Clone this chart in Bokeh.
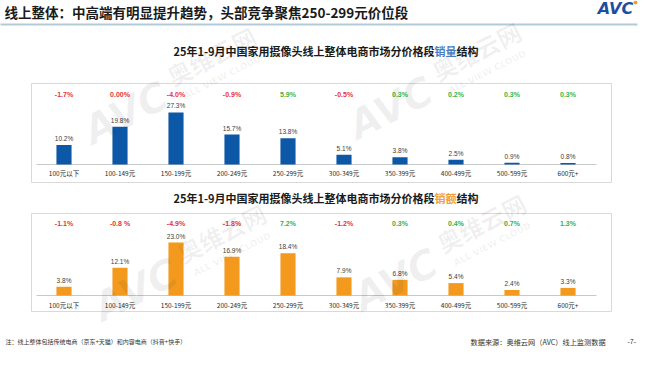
from bokeh.plotting import figure
from bokeh.models import Range1d
from bokeh.core.properties import value
from bokeh.embed import file_html
from bokeh.resources import INLINE

# ---------------- data ----------------
categories = ["100元以下", "100-149元", "150-199元", "200-249元", "250-299元",
              "300-349元", "350-399元", "400-499元", "500-599元", "600元+"]
volume_share = [10.2, 19.8, 27.3, 15.7, 13.8, 5.1, 3.8, 2.5, 0.9, 0.8]
volume_change = ["-1.7%", "0.00%", "-4.0%", "-0.9%", "5.9%",
                 "-0.5%", "0.3%", "0.2%", "0.3%", "0.3%"]
sales_share = [3.8, 12.1, 23.0, 16.9, 18.4, 7.9, 6.8, 5.4, 2.4, 3.3]
sales_change = ["-1.1%", "-0.8 %", "-4.9%", "-1.8%", "7.2%",
                "-1.2%", "0.3%", "0.4%", "0.7%", "1.3%"]

page_title = "线上整体：中高端有明显提升趋势，头部竞争聚焦250-299元价位段"
chart_title_main = "25年1-9月中国家用摄像头线上整体电商市场分价格段"
chart_title_tail = "结构"
vol_word = "销量"
amt_word = "销额"
note_text = "注：线上整体包括传统电商（京东+天猫）和内容电商（抖音+快手）"
source_text = "数据来源：奥维云网（AVC）线上监测数据"
page_no = "-7-"

# ---------------- styles / layout ----------------
CJK = value("Noto Sans CJK SC")
LAT = value("Liberation Sans")
BLUE = "#0d58a6"
ORANGE = "#f39a1e"
RED = "#e5333a"
GREEN = "#35b34a"

X0, STEP = 71.5, 56.0          # screen x of first category, spacing
W, H = 640, 358
p = figure(width=W, height=H, x_range=Range1d(8, 648), y_range=Range1d(366, 8),
           output_backend="svg", toolbar_location=None, min_border=0,
           x_axis_location=None, y_axis_location=None)
p.grid.visible = False
p.outline_line_color = None
p.background_fill_color = "white"
p.border_fill_color = "white"


def yrange(base_px, px_per_unit):
    end = (base_px - 8) / px_per_unit
    return Range1d(start=end - H / px_per_unit, end=end)


p.extra_x_ranges = {"cat": Range1d(start=(8 - X0) / STEP, end=(648 - X0) / STEP)}
p.extra_y_ranges = {"vol": yrange(172, 1.905), "amt": yrange(303, 2.3)}
idx = list(range(len(categories)))

# ---------------- watermarks ----------------
def watermark(cx, cy):
    import math
    a = 0.47
    ca, sa = math.cos(a), math.sin(a)
    def pt(dx, dy):
        return cx + dx * ca + dy * sa, cy - dx * sa + dy * ca
    x1, y1 = pt(-62, 8)
    p.text(x=[x1], y=[y1], text=["AVC"], angle=a, text_font=value("DejaVu Sans"),
           text_font_size="40px", text_font_style="bold italic", text_color="#000000",
           text_alpha=0.06, text_align="center", text_baseline="middle")
    x2, y2 = pt(40, -4)
    p.text(x=[x2], y=[y2], text=["奥维云网"], angle=a, text_font=CJK,
           text_font_size="24px", text_font_style="bold", text_color="#000000",
           text_alpha=0.06, text_align="center", text_baseline="middle")
    x3, y3 = pt(40, 20)
    p.text(x=[x3], y=[y3], text=["ALL VIEW CLOUD"], angle=a, text_font=value("DejaVu Sans"),
           text_font_size="9px", text_font_style="bold", text_color="#000000",
           text_alpha=0.06, text_align="center", text_baseline="middle")


# ---------------- header ----------------
p.text(x=[12], y=[19], text=[page_title], text_font=CJK, text_font_size="13.5px",
       text_font_style="bold", text_color="#1a1a1a", text_align="left", text_baseline="middle")
p.segment(x0=[7], y0=[32], x1=[645], y1=[32], line_color="#b3cad9", line_width=2)
p.text(x=[623], y=[16], text=["AVC"], text_font=value("DejaVu Sans"), text_font_size="16px",
       text_font_style="bold italic", text_color="#1d4f9e", text_align="center",
       text_baseline="middle")
p.scatter(x=[643], y=[10], size=3, color="#f39a1e")


def chart(top, bottom, base, title_y, word, word_color, shares, changes, bar_color,
          yname, change_y, cat_y):
    p.quad(left=[39], right=[619], top=[top], bottom=[bottom], fill_color="white",
           line_color="#d9d9d9", line_width=1)
    p.text(x=[442], y=[title_y], text=[chart_title_main], text_font=CJK,
           text_font_size="11px", text_font_style="bold", text_color="#1a1a1a",
           text_align="right", text_baseline="middle")
    p.text(x=[442], y=[title_y], text=[word], text_font=CJK, text_font_size="11px",
           text_font_style="bold", text_color=word_color, text_align="left",
           text_baseline="middle")
    p.text(x=[464], y=[title_y], text=[chart_title_tail], text_font=CJK,
           text_font_size="11px", text_font_style="bold", text_color="#1a1a1a",
           text_align="left", text_baseline="middle")
    p.segment(x0=[44], y0=[base], x1=[604], y1=[base], line_color="#c8c8c8", line_width=1)
    p.vbar(x=idx, top=shares, bottom=0, width=0.27, fill_color=bar_color, line_color=None,
           x_range_name="cat", y_range_name=yname)
    p.text(x=idx, y=shares, text=[f"{v:.1f}%" for v in shares], x_range_name="cat",
           y_range_name=yname, y_offset=-3, text_font=LAT, text_font_size="6.5px",
           text_color="#404040", text_align="center", text_baseline="bottom")
    cols = [RED if float(c.replace("%", "").strip()) <= 0 else GREEN for c in changes]
    p.text(x=idx, y=[change_y] * len(idx), text=changes, x_range_name="cat",
           text_font=LAT, text_font_size="7px", text_font_style="bold", text_color=cols,
           text_align="center", text_baseline="middle")
    p.text(x=idx, y=[cat_y] * len(idx), text=categories, x_range_name="cat",
           text_font=CJK, text_font_size="6.5px", text_color="#2b2b2b",
           text_align="center", text_baseline="middle")


chart(91, 190, 172, 58, vol_word, "#4a7ebb", volume_share, volume_change, BLUE, "vol", 102, 180)
chart(221, 319, 303, 205, amt_word, "#f0a030", sales_share, sales_change, ORANGE, "amt", 231, 312)

for cx, cy in [(185, 85), (450, 80), (195, 262), (455, 252)]:
    watermark(cx, cy)

# ---------------- footer ----------------
p.text(x=[13], y=[349], text=[note_text], text_font=CJK, text_font_size="6px",
       text_color="#333333", text_align="left", text_baseline="middle")
p.text(x=[478], y=[349], text=[source_text], text_font=CJK, text_font_size="7.2px",
       text_color="#333333", text_align="left", text_baseline="middle")
p.text(x=[635], y=[349], text=[page_no], text_font=LAT, text_font_size="7px",
       text_color="#333333", text_align="left", text_baseline="middle")

open("out.html", "w").write(file_html(p, INLINE))
